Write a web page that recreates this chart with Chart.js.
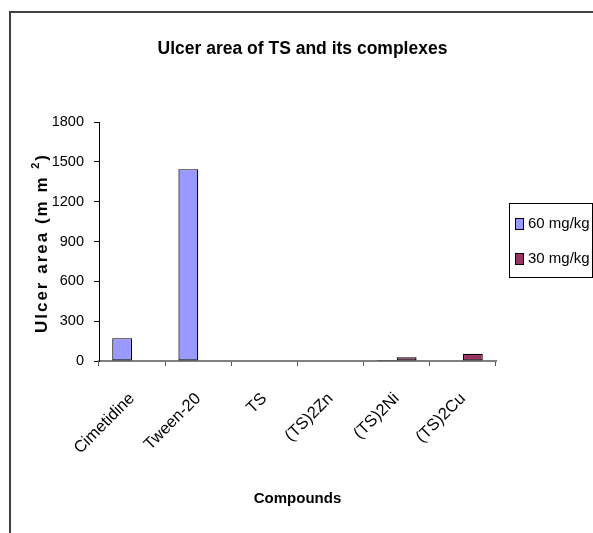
<!DOCTYPE html>
<html>
<head>
<meta charset="utf-8">
<script src="https://cdn.jsdelivr.net/npm/chart.js@4.4.1/dist/chart.umd.min.js"></script>
<style>
  html, body { margin: 0; padding: 0; background: #fff; }
  #wrap { width: 593px; height: 533px; }
</style>
</head>
<body>
<div id="wrap"><canvas id="ulcerChart" width="593" height="533"></canvas></div>
<script>
// Données
const compounds = ['Cimetidine', 'Tween-20', 'TS', '(TS)2Zn', '(TS)2Ni', '(TS)2Cu'];
const dose60 = [172, 1445, 0, 0, 8, 0];
const dose30 = [0, 0, 0, 0, 28, 55];
const yTicks = [0, 300, 600, 900, 1200, 1500, 1800];
const seriesLabels = ['60 mg/kg', '30 mg/kg'];
const seriesColors = ['#9999FF', '#993366'];

const SANS = "'Liberation Sans', Arial, sans-serif";

// Cadre, titre de l'axe Y et légende encadrée
const decorPlugin = {
    id: 'decor',
    beforeDraw(chart) {
        const ctx = chart.ctx;
        ctx.save();
        ctx.fillStyle = '#fff';
        ctx.fillRect(0, 0, chart.width, chart.height);
        ctx.strokeStyle = '#404040';
        ctx.lineWidth = 2;
        ctx.beginPath();
        ctx.moveTo(10, chart.height);
        ctx.lineTo(10, 12);
        ctx.lineTo(chart.width, 12);
        ctx.stroke();
        ctx.restore();
    },
    afterDraw(chart) {
        const ctx = chart.ctx;

        // titre Y
        ctx.save();
        ctx.translate(42, 243);
        ctx.rotate(-Math.PI / 2);
        ctx.fillStyle = '#000';
        ctx.textBaseline = 'middle';
        ctx.textAlign = 'left';
        ctx.letterSpacing = '2px';
        const main = 'Ulcer area (m m ';
        const sup = '2';
        const close = ')';
        ctx.font = 'bold 17px ' + SANS;
        const wMain = ctx.measureText(main).width;
        const wClose = ctx.measureText(close).width;
        ctx.font = 'bold 11px ' + SANS;
        const wSup = ctx.measureText(sup).width;
        let x = -(wMain + wSup + wClose) / 2;
        ctx.font = 'bold 17px ' + SANS;
        ctx.fillText(main, x, 0);
        x += wMain;
        ctx.font = 'bold 11px ' + SANS;
        ctx.fillText(sup, x, -6);
        x += wSup;
        ctx.font = 'bold 17px ' + SANS;
        ctx.fillText(close, x, 0);
        ctx.restore();

        // légende
        ctx.save();
        ctx.strokeStyle = '#000';
        ctx.lineWidth = 1;
        ctx.strokeRect(509.5, 203.5, 83, 74);
        ctx.font = '15px ' + SANS;
        ctx.textBaseline = 'middle';
        ctx.textAlign = 'left';
        chart.data.datasets.forEach((ds, i) => {
            const cy = 224 + i * 35;
            ctx.fillStyle = ds.backgroundColor;
            ctx.fillRect(515.5, cy - 5.5, 8, 11);
            ctx.strokeStyle = '#000';
            ctx.strokeRect(515.5, cy - 5.5, 8, 11);
            ctx.fillStyle = '#000';
            ctx.fillText(ds.label, 528, cy);
        });
        ctx.restore();
    }
};

const ctx = document.getElementById('ulcerChart').getContext('2d');
const ulcerChart = new Chart(ctx, {
    type: 'bar',
    data: {
        labels: compounds,
        datasets: [
            {
                label: seriesLabels[0],
                data: dose60,
                backgroundColor: seriesColors[0],
                borderColor: '#000',
                borderWidth: 1.2,
                borderSkipped: false
            },
            {
                label: seriesLabels[1],
                data: dose30,
                backgroundColor: seriesColors[1],
                borderColor: '#000',
                borderWidth: 1.2,
                borderSkipped: false
            }
        ]
    },
    options: {
        responsive: false,
        animation: false,
        devicePixelRatio: 1,
        categoryPercentage: 0.6,
        barPercentage: 1.0,
        layout: { padding: { left: 12, right: 0, top: 0, bottom: 0 } },
        plugins: {
            legend: { display: false },
            tooltip: { enabled: false },
            title: {
                display: true,
                text: 'Ulcer area of TS and its complexes',
                color: '#000',
                font: { family: SANS, size: 17.5, weight: 'bold', lineHeight: 1.2 },
                padding: { top: 38.5, bottom: 62.5 }
            }
        },
        scales: {
            x: {
                afterFit(scale) { scale.height = 172; },
                grid: {
                    display: true,
                    drawOnChartArea: false,
                    drawTicks: true,
                    tickLength: 5,
                    color: '#555'
                },
                border: { color: '#808080', width: 2 },
                ticks: {
                    color: '#000',
                    minRotation: 45,
                    maxRotation: 45,
                    padding: 23,
                    font: { family: SANS, size: 16.5 }
                },
                title: {
                    display: true,
                    text: 'Compounds',
                    color: '#000',
                    font: { family: SANS, size: 15, weight: 'bold', lineHeight: 1.2 },
                    padding: { top: 0, bottom: 25 }
                }
            },
            y: {
                min: 0,
                max: 1800,
                afterFit(scale) { scale.width = 87; },
                afterBuildTicks(scale) {
                    scale.ticks = yTicks.map(v => ({ value: v }));
                },
                grid: {
                    display: true,
                    drawOnChartArea: false,
                    drawTicks: true,
                    tickLength: 5,
                    color: '#000'
                },
                border: { color: '#000', width: 1 },
                ticks: {
                    color: '#000',
                    padding: 10,
                    font: { family: SANS, size: 14.5 },
                    callback: (value) => String(value)
                }
            },
            // espace réservé à droite pour la légende
            legendSpace: {
                type: 'linear',
                position: 'right',
                afterFit(scale) { scale.width = 97; },
                grid: { display: false },
                border: { display: false },
                ticks: { display: false }
            }
        }
    },
    plugins: [decorPlugin]
});
</script>
</body>
</html>
